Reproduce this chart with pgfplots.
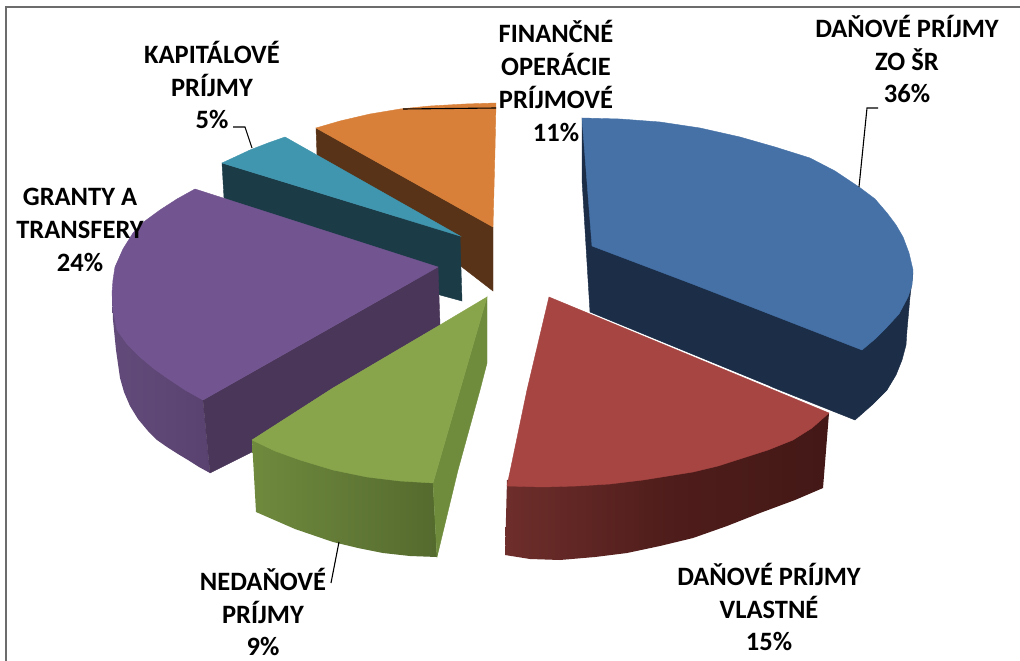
\documentclass[border=0pt]{standalone}
\usepackage{pgfplots}
\pgfplotsset{compat=1.18}
\usepackage{fontspec}
\setmainfont{Carlito}
\definecolor{bT}{HTML}{4571A7}\definecolor{bS}{HTML}{1B2D47}
\definecolor{rT}{HTML}{A64542}\definecolor{rL}{HTML}{6E2E2B}\definecolor{rM}{HTML}{4F1D1B}\definecolor{rR}{HTML}{431816}
\definecolor{gT}{HTML}{88A54C}\definecolor{gL}{HTML}{6F8A3D}\definecolor{gM}{HTML}{627A36}\definecolor{gR}{HTML}{546A2E}\definecolor{gS}{HTML}{6F8C3C}
\definecolor{pT}{HTML}{725590}\definecolor{pL}{HTML}{624B7A}\definecolor{pR}{HTML}{5A4270}\definecolor{pS}{HTML}{4A3659}
\definecolor{tT}{HTML}{4096AE}\definecolor{tS}{HTML}{1B3B47}
\definecolor{oT}{HTML}{D88039}\definecolor{oS}{HTML}{583318}
\begin{document}
\begin{tikzpicture}
\begin{axis}[hide axis,scale only axis,width=1020pt,height=661pt,
  xmin=0,xmax=1020,ymin=0,ymax=661,y dir=reverse,clip=true]
% background (keeps the page the size of the full chart area)
\addplot[draw=white,line width=0pt,fill=white] coordinates {(0,0) (1020,0) (1020,661) (0,661)} -- cycle;
% frame
\addplot[draw=gray!85!black,line width=1.2pt] coordinates {(6,661) (6,7) (1020,7)};
% orange
\addplot[draw=oS,fill=oS] coordinates {(316,128) (317,155) (493,291) (493,227)} -- cycle;
\addplot[draw=oT,fill=oT] coordinates {(316,128) (340,121) (370,114) (400,109) (430,106) (465,104) (496,103) (495,150) (493,227)} -- cycle;
% teal
\addplot[draw=tS,fill=tS] coordinates {(222,163) (224,198) (440,295) (462,301) (460,236)} -- cycle;
\addplot[draw=tT,fill=tT] coordinates {(222,163) (235,157) (250,150) (268,143) (285,137) (460,236)} -- cycle;
% blue
\addplot[draw=bS,fill=bS] coordinates {(582,118) (582,180) (590,312) (777,389) (855,420) (872,405) (887,390) (896,375) (902,360) (906,345) (907,330) (910,297) (913,273) (880,250)} -- cycle;
\addplot[draw=bT,fill=bT] coordinates {(582,118) (620,119) (660,122) (700,128) (740,137) (775,147) (810,158) (835,171) (859,187) (875,199) (887,213) (896,225) (903,237) (909,253) (913,270) (912,285) (908,297) (899,314) (887,327) (875,339) (862,350) (695,285) (592,246)} -- cycle;
% red
\addplot[draw=none,left color=rL,right color=rR,middle color=rM] coordinates {(507,480) (505,555) (530,559) (560,560) (595,557) (627,553) (660,546) (693,538) (727,526) (760,513) (795,500) (823,488) (829,413)} -- cycle;
\addplot[draw=white,line width=1pt] coordinates {(591,314) (770,387)};
\addplot[draw=rT,fill=rT] coordinates {(549,297) (829,413) (812,428) (793,440) (768,450) (743,458) (718,466) (693,472) (668,476) (643,480) (610,484) (577,486) (543,487) (507,486) (527,390)} -- cycle;
% purple
\addplot[draw=none,left color=pL,right color=pR] coordinates {(112,293) (113,320) (116,350) (120,378) (124,392) (130,406) (138,419) (148,431) (157,440) (167,447) (178,454) (188,460) (199,467) (210,473) (203,400)} -- cycle;
\addplot[draw=pS,fill=pS] coordinates {(203,400) (210,473) (252,452) (252,440) (333,388) (440,325) (438,267)} -- cycle;
\addplot[draw=pT,fill=pT] coordinates {(195,189) (438,267) (203,400) (185,390) (167,378) (153,368) (140,357) (127,344) (117,330) (113,310) (112,293) (113,280) (115,267) (123,249) (133,233) (145,221) (160,210) (177,199)} -- cycle;
% green
\addplot[draw=none,left color=gL,right color=gR,middle color=gM] coordinates {(252,440) (256,512) (295,529) (333,542) (358,548) (383,553) (410,556) (437,557) (433,483)} -- cycle;
\addplot[draw=gS,fill=gS] coordinates {(433,483) (437,557) (458,470) (480,390) (487,363) (487,297)} -- cycle;
\addplot[draw=gT,fill=gT] coordinates {(487,297) (440,325) (333,388) (252,440) (275,451) (300,460) (333,470) (367,477) (400,481) (433,483)} -- cycle;
% leaders
\addplot[black,line width=1.1pt] coordinates {(403,109) (496,108)};
\addplot[black,line width=1.1pt] coordinates {(233,127) (245,127) (252,148)};
\addplot[black,line width=1.1pt] coordinates {(878,108) (867,108) (859,187)};
\addplot[black,line width=1.1pt] coordinates {(339,542) (331,583)};
% labels
\tikzset{lab/.style={font=\fontsize{26.5}{32.7}\selectfont\bfseries,align=center,inner sep=0pt,anchor=center,text=black}}
\node[lab] at (axis cs:907,59) {DAŇOVÉ PRÍJMY\\ZO ŠR\\36\%};
\node[lab] at (axis cs:556,81) {FINANČNÉ\\OPERÁCIE\\PRÍJMOVÉ\\11\%};
\node[lab] at (axis cs:212,85) {KAPITÁLOVÉ\\PRÍJMY\\5\%};
\node[lab] at (axis cs:80,230) {GRANTY A\\TRANSFERY\\24\%};
\node[lab] at (axis cs:263,612) {NEDAŇOVÉ\\PRÍJMY\\9\%};
\node[lab] at (axis cs:769,607) {DAŇOVÉ PRÍJMY\\VLASTNÉ\\15\%};
\end{axis}
\end{tikzpicture}
\end{document}
